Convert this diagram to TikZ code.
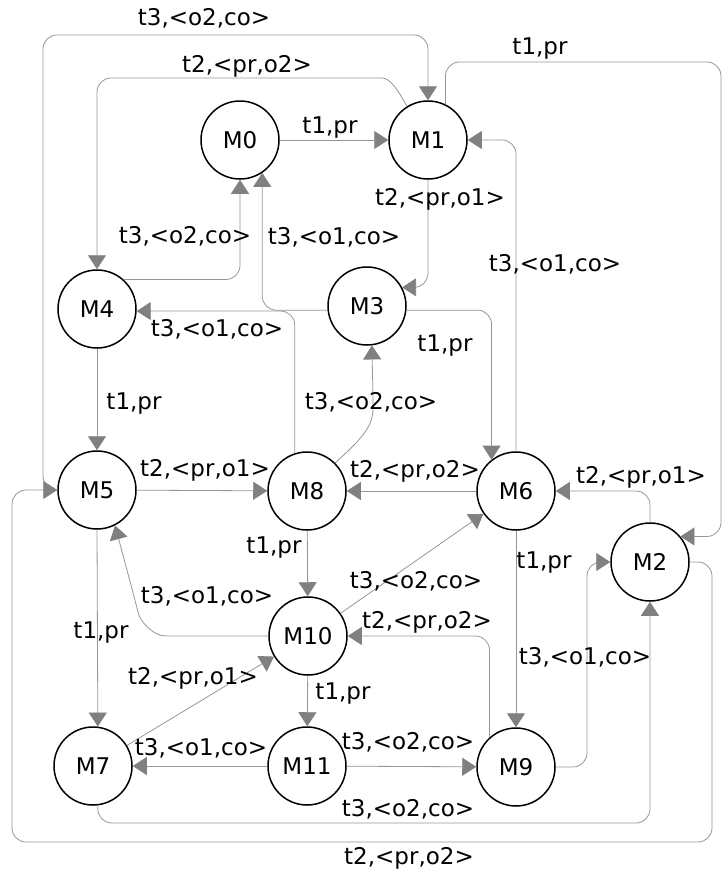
\documentclass[tikz,border=0pt]{standalone}
\usepackage{fontspec}
\setmainfont{DejaVu Sans}
\usetikzlibrary{arrows.meta}
\definecolor{edgegray}{RGB}{150,150,150}
\definecolor{tipgray}{RGB}{128,128,128}
\begin{document}
\begin{tikzpicture}[x=1pt,y=-1pt,
  state/.style={circle,draw=black,line width=1.5pt,minimum size=78pt,inner sep=0pt,fill=white,
    font=\fontsize{23}{27}\selectfont},
  edge/.style={draw=edgegray,line width=0.8pt,rounded corners=14pt,
    -{Triangle[length=14pt,width=18pt,color=tipgray]}},
  lbl/.style={inner sep=0pt,text height=17pt,text depth=5pt,font=\fontsize{23}{27}\selectfont}]
\useasboundingbox (0,0) rectangle (724,873);

% states
\node[state] (M0)  at (240,140) {M0};
\node[state] (M1)  at (428,140) {M1};
\node[state] (M3)  at (367,306) {M3};
\node[state] (M4)  at (97,309)  {M4};
\node[state] (M5)  at (97,490)  {M5};
\node[state] (M8)  at (307,491) {M8};
\node[state] (M6)  at (516,491) {M6};
\node[state] (M2)  at (650,562) {M2};
\node[state] (M10) at (308,636) {M10};
\node[state] (M7)  at (93,766)  {M7};
\node[state] (M11) at (307,766) {M11};
\node[state] (M9)  at (516,767) {M9};

% bend points of the long connectors
\coordinate (loopTR) at (721,62);
\coordinate (topL)   at (43,35);
\coordinate (bendM1) at (368,78);
\coordinate (botM7)  at (400,823);
\coordinate (botR)   at (712,842);
\coordinate (botL)   at (12,842);
\coordinate (riseM9) at (587,562);

% transitions
\draw[edge] (M0) -- (M1);
\draw[edge] (M1.64) |- (loopTR) |- (M2.40);
\draw[edge] (M1.south) |- (M3.28);
\draw[edge] (M6.north) |- (M1.east);
\draw[edge] (M5.west) -| (topL) -| (M1.north);
\draw[edge] (M1.122) .. controls (398,90) and (390,78) .. (bendM1) -| (M4.north);
\draw[edge] (M4.48) -| (M0.south);
\draw[edge] (M3.186) -| (M0.-56);
\draw[edge] (M8.108) |- (M4.-3);
\draw[edge] (M3.-6) -| (M6.128);
\draw[edge] (M8.45) .. controls (358,442) and (373,428) .. (373,395) -- (M3.-83);
\draw[edge] (M4) -- (M5);
\draw[edge] (M5) -- (M8);
\draw[edge] (M6) -- (M8);
\draw[edge] (M2.north) |- (M6.east);
\draw[edge] (M8) -- (M10);
\draw[edge] (M10.west) -- (180,636) .. controls (152,636) and (140,620) .. (135,600) -- (M5.-63);
\draw[edge] (M10) -- (M6);
\draw[edge] (M9.132) |- (M10.east);
\draw[edge] (M6) -- (M9);
\draw[edge] (M9.east) -| (riseM9) -- (M2.west);
\draw[edge] (M7.-83) |- (botM7) -| (M2.south);
\draw[edge] (M5.-90) -- (M7.83);
\draw[edge] (M7) -- (M10);
\draw[edge] (M11) -- (M7);
\draw[edge] (M10) -- (M11);
\draw[edge] (M11) -- (M9);
\draw[edge] (M2.east) -| (botR) -- (botL) |- (M5.west);

% transition labels
\node[lbl] (a01)  at (330,127) {t1,pr};
\node[lbl] (a12)  at (540,48)  {t1,pr};
\node[lbl] (a51)  at (204,19)  {t3,<o2,co>};
\node[lbl] (a14)  at (247,66)  {t2,<pr,o2>};
\node[lbl] (a13)  at (440,199) {t2,<pr,o1>};
\node[lbl] (a61)  at (555,265) {t3,<o1,co>};
\node[lbl] (a40)  at (185,237) {t3,<o2,co>};
\node[lbl] (a30)  at (334,238) {t3,<o1,co>};
\node[lbl] (a84)  at (217,330) {t3,<o1,co>};
\node[lbl] (a36)  at (445,345) {t1,pr};
\node[lbl] (a83)  at (371,403) {t3,<o2,co>};
\node[lbl] (a45)  at (134,403) {t1,pr};
\node[lbl] (a58)  at (205,470) {t2,<pr,o1>};
\node[lbl] (a68)  at (415,471) {t2,<pr,o2>};
\node[lbl] (a26)  at (641,477) {t2,<pr,o1>};
\node[lbl] (a810) at (274,547) {t1,pr};
\node[lbl] (a106) at (416,582) {t3,<o2,co>};
\node[lbl] (a910) at (427,622) {t2,<pr,o2>};
\node[lbl] (a69)  at (544,562) {t1,pr};
\node[lbl] (a105) at (207,597) {t3,<o1,co>};
\node[lbl] (a57)  at (101,632) {t1,pr};
\node[lbl] (a710) at (193,678) {t2,<pr,o1>};
\node[lbl] (a1011) at (343,693) {t1,pr};
\node[lbl] (a117) at (201,749) {t3,<o1,co>};
\node[lbl] (a119) at (408,743) {t3,<o2,co>};
\node[lbl] (a92)  at (585,658) {t3,<o1,co>};
\node[lbl] (a72)  at (408,810) {t3,<o2,co>};
\node[lbl] (a25)  at (409,858) {t2,<pr,o2>};
\end{tikzpicture}
\end{document}
